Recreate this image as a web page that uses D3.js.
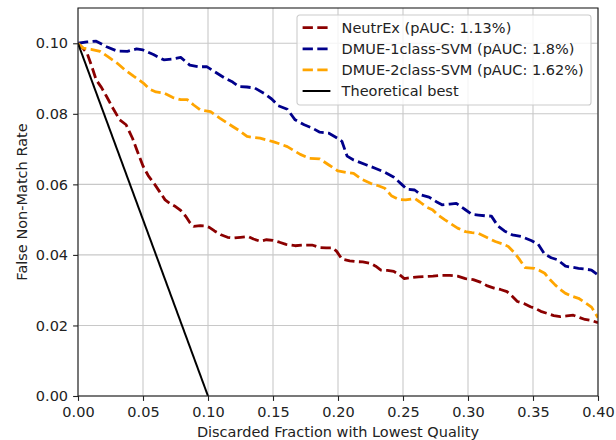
<!DOCTYPE html>
<html>
<head>
<meta charset="utf-8">
<script src="https://cdn.jsdelivr.net/npm/d3@7"></script>
<style>
  body { margin: 0; background: #fff; }
  text { font-family: "DejaVu Sans", sans-serif; }
</style>
</head>
<body>
<div id="chart"></div>
<script>
// values: [discarded fraction, FNMR]
const neutrex = [
  [0,0.1],[0.004,0.0985],[0.007,0.0972],[0.011,0.093],[0.014,0.0896],[0.018,0.0875],[0.022,0.0849],
  [0.027,0.0815],[0.032,0.0783],[0.037,0.0769],[0.042,0.073],[0.045,0.07],[0.05,0.0652],[0.054,0.0625],
  [0.059,0.06],[0.063,0.0578],[0.067,0.0556],[0.071,0.0545],[0.075,0.0537],[0.079,0.0526],[0.083,0.0509],
  [0.086,0.0492],[0.089,0.0481],[0.094,0.0483],[0.098,0.0482],[0.101,0.0478],[0.105,0.0468],[0.11,0.0457],
  [0.115,0.045],[0.12,0.0448],[0.125,0.045],[0.131,0.0452],[0.135,0.0445],[0.14,0.0439],[0.145,0.0443],
  [0.15,0.0441],[0.155,0.0436],[0.16,0.043],[0.167,0.0426],[0.173,0.0428],[0.18,0.0428],[0.186,0.0421],
  [0.191,0.042],[0.196,0.042],[0.199,0.041],[0.203,0.0388],[0.209,0.0383],[0.214,0.0381],[0.219,0.038],
  [0.225,0.0376],[0.229,0.0368],[0.233,0.0357],[0.238,0.0356],[0.243,0.0353],[0.247,0.0345],[0.251,0.0333],
  [0.257,0.0336],[0.262,0.0338],[0.268,0.0339],[0.273,0.034],[0.28,0.0342],[0.286,0.0342],[0.292,0.034],
  [0.298,0.0333],[0.304,0.033],[0.31,0.0322],[0.315,0.0312],[0.32,0.0306],[0.325,0.0302],[0.33,0.0296],
  [0.334,0.0283],[0.338,0.0268],[0.343,0.0262],[0.348,0.0253],[0.352,0.0248],[0.356,0.024],[0.361,0.0234],
  [0.366,0.0228],[0.371,0.0225],[0.376,0.0227],[0.381,0.0229],[0.386,0.0222],[0.39,0.0217],[0.395,0.0214],
  [0.4,0.0208]
]
const oneClass = [
  [0,0.1],[0.007,0.1004],[0.014,0.1006],[0.022,0.099],[0.03,0.0978],[0.038,0.0977],[0.045,0.0984],
  [0.05,0.0981],[0.058,0.0968],[0.066,0.0953],[0.072,0.0955],[0.079,0.096],[0.086,0.0938],[0.093,0.0933],
  [0.099,0.0934],[0.107,0.0915],[0.113,0.0901],[0.119,0.089],[0.124,0.0877],[0.13,0.0876],[0.136,0.0873],
  [0.143,0.0858],[0.149,0.0842],[0.154,0.0823],[0.161,0.0813],[0.167,0.0783],[0.174,0.0769],[0.18,0.076],
  [0.186,0.0748],[0.193,0.0745],[0.2,0.073],[0.203,0.0722],[0.207,0.068],[0.212,0.0669],[0.222,0.0655],
  [0.229,0.0645],[0.236,0.0634],[0.243,0.062],[0.249,0.06],[0.253,0.0586],[0.259,0.0584],[0.264,0.057],
  [0.27,0.0564],[0.276,0.055],[0.28,0.0542],[0.286,0.0544],[0.291,0.0546],[0.298,0.0528],[0.303,0.0515],
  [0.308,0.0513],[0.313,0.0511],[0.318,0.051],[0.323,0.0482],[0.328,0.0468],[0.334,0.0457],[0.341,0.0452],
  [0.349,0.044],[0.354,0.043],[0.359,0.0402],[0.364,0.0392],[0.369,0.0386],[0.375,0.0368],[0.38,0.0365],
  [0.385,0.0362],[0.39,0.036],[0.395,0.0357],[0.4,0.0343]
]
const twoClass = [
  [0,0.1],[0.004,0.0986],[0.01,0.0983],[0.017,0.0977],[0.023,0.0962],[0.03,0.0944],[0.036,0.0925],
  [0.043,0.0906],[0.05,0.0888],[0.055,0.087],[0.06,0.0862],[0.066,0.0859],[0.073,0.0846],[0.079,0.084],
  [0.084,0.084],[0.089,0.0825],[0.094,0.0811],[0.102,0.0806],[0.109,0.0788],[0.114,0.0776],[0.119,0.0764],
  [0.125,0.075],[0.13,0.0736],[0.135,0.0733],[0.14,0.0731],[0.15,0.0721],[0.155,0.0715],[0.161,0.0707],
  [0.166,0.0696],[0.171,0.0685],[0.178,0.0674],[0.186,0.0672],[0.193,0.0655],[0.2,0.0638],[0.206,0.0634],
  [0.212,0.0631],[0.218,0.0615],[0.225,0.0603],[0.231,0.0596],[0.236,0.0589],[0.241,0.0568],[0.247,0.0557],
  [0.252,0.0556],[0.259,0.056],[0.263,0.055],[0.268,0.0536],[0.273,0.0527],[0.277,0.0513],[0.282,0.05],
  [0.287,0.0488],[0.292,0.0476],[0.298,0.0466],[0.303,0.0463],[0.308,0.0461],[0.313,0.0452],[0.321,0.0438],
  [0.326,0.0432],[0.331,0.0424],[0.336,0.0405],[0.34,0.0385],[0.344,0.0364],[0.351,0.0362],[0.355,0.0356],
  [0.359,0.0348],[0.363,0.033],[0.367,0.0315],[0.371,0.0302],[0.375,0.0291],[0.38,0.0283],[0.385,0.0277],
  [0.39,0.0265],[0.395,0.0252],[0.4,0.0222]
]
const theoretical = [[0,0.1],[0.1,0]]

const labels = ["NeutrEx (pAUC: 1.13%)", "DMUE-1class-SVM (pAUC: 1.8%)", "DMUE-2class-SVM (pAUC: 1.62%)", "Theoretical best"]
const xTicks = [0, 0.05, 0.1, 0.15, 0.2, 0.25, 0.3, 0.35, 0.4]
const yTicks = [0, 0.02, 0.04, 0.06, 0.08, 0.1]

const series = [
  {name: labels[0], data: neutrex, color: "#8b0000", dash: "10.3,4.4", w: 2.8},
  {name: labels[1], data: oneClass, color: "#00008b", dash: "10.3,4.4", w: 2.8},
  {name: labels[2], data: twoClass, color: "#ffa500", dash: "10.3,4.4", w: 2.8},
  {name: labels[3], data: theoretical, color: "#000000", dash: null, w: 2}
]

const W = 616, H = 440
const margin = {left: 78, right: 18, top: 8, bottom: 44}
const width = W - margin.left - margin.right
const height = H - margin.top - margin.bottom
const fs = 14.5

const svg = d3.select("#chart").append("svg").attr("width", W).attr("height", H)
const g = svg.append("g").attr("transform", `translate(${margin.left},${margin.top})`)

const x = d3.scaleLinear().domain([0, 0.4]).range([0, width])
const y = d3.scaleLinear().domain([0, 0.11]).range([height, 0])

// grid
g.selectAll(".gx").data(xTicks).join("line")
  .attr("x1", d => x(d)).attr("x2", d => x(d)).attr("y1", 0).attr("y2", height)
  .attr("stroke", "#c8c8c8").attr("stroke-width", 1.1)
g.selectAll(".gy").data(yTicks).join("line")
  .attr("x1", 0).attr("x2", width).attr("y1", d => y(d)).attr("y2", d => y(d))
  .attr("stroke", "#c8c8c8").attr("stroke-width", 1.1)

// lines
const line = d3.line().x(d => x(d[0])).y(d => y(d[1]))
const clip = svg.append("clipPath").attr("id", "clip").append("rect").attr("width", width).attr("height", height)
g.selectAll(".series").data(series).join("path")
  .attr("clip-path", "url(#clip)")
  .attr("d", d => line(d.data))
  .attr("fill", "none")
  .attr("stroke", d => d.color)
  .attr("stroke-width", d => d.w)
  .attr("stroke-dasharray", d => d.dash)
  .attr("stroke-linejoin", "round")

// axes
const xAxis = g.append("g").attr("transform", `translate(0,${height})`)
  .call(d3.axisBottom(x).tickValues(xTicks).tickFormat(d3.format(".2f")).tickSize(4.9).tickPadding(5.5))
const yAxis = g.append("g")
  .call(d3.axisLeft(y).tickValues(yTicks).tickFormat(d3.format(".2f")).tickSize(4.9).tickPadding(5))
;[xAxis, yAxis].forEach(a => {
  a.select(".domain").remove()
  a.selectAll("line").attr("stroke", "#222").attr("stroke-width", 1.1)
  a.selectAll("text").attr("fill", "#222").style("font-size", fs + "px").style("font-family", "DejaVu Sans")
})

// frame
g.append("rect").attr("width", width).attr("height", height)
  .attr("fill", "none").attr("stroke", "#222").attr("stroke-width", 1.1)

// axis labels
svg.append("text").attr("x", margin.left + width / 2).attr("y", 436.5)
  .attr("text-anchor", "middle").attr("fill", "#222").style("font-size", fs + "px")
  .text("Discarded Fraction with Lowest Quality")
svg.append("text").attr("transform", `translate(26.5,${margin.top + height / 2}) rotate(-90)`)
  .attr("text-anchor", "middle").attr("fill", "#222").style("font-size", fs + "px")
  .text("False Non-Match Rate")

// legend
const legend = svg.append("g").attr("transform", "translate(297,15)")
legend.append("rect").attr("width", 294).attr("height", 90).attr("rx", 2.8)
  .attr("fill", "#fff").attr("fill-opacity", 0.8).attr("stroke", "#cccccc").attr("stroke-width", 1.1)
const rows = legend.selectAll(".row").data(series).join("g")
  .attr("transform", (d, i) => `translate(0,${12.7 + i * 21.1})`)
rows.append("line").attr("x1", 5.6).attr("x2", 33.4)
  .attr("stroke", d => d.color).attr("stroke-width", d => d.w).attr("stroke-dasharray", d => d.dash)
rows.append("text").attr("x", 44.6).attr("y", 5.2).attr("fill", "#222")
  .style("font-size", fs + "px").text(d => d.name)
</script>
</body>
</html>
